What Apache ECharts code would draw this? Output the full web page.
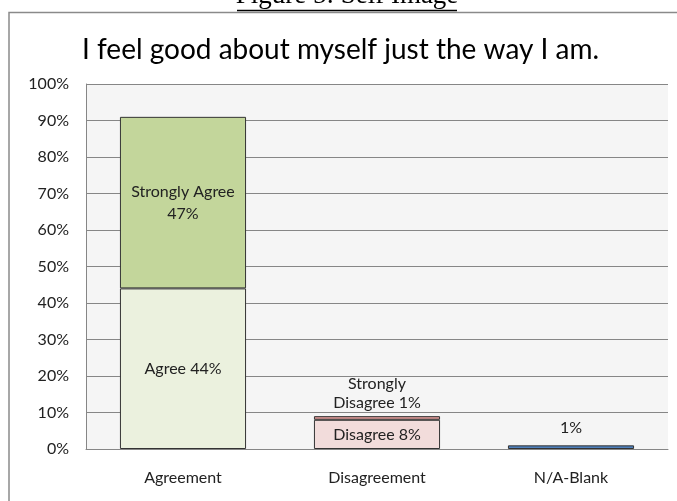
<!DOCTYPE html>
<html>
<head>
<meta charset="utf-8">
<script src="https://cdn.jsdelivr.net/npm/echarts@6/dist/echarts.min.js"></script>
<style>
html,body{margin:0;padding:0;background:#fff;}
#chart{width:677px;height:501px;}
</style>
</head>
<body>
<div id="chart"></div>
<script>
const categories = ['Agreement', 'Disagreement', 'N/A-Blank'];
const agree = [44, '-', '-'];
const stronglyAgree = [47, '-', '-'];
const disagree = ['-', 8, '-'];
const stronglyDisagree = ['-', 1, '-'];
const naBlank = ['-', '-', 1];
const yTicks = [0, 10, 20, 30, 40, 50, 60, 70, 80, 90, 100];

const FONT = 'Lato';
const chart = echarts.init(document.getElementById('chart'), null, {renderer: 'canvas'});

function seg(name, data, color, labelText, pos, dist, lh) {
  return {
    name: name, type: 'bar', stack: 'total', data: data,
    barWidth: '65%',
    itemStyle: {color: color, borderColor: '#333333', borderWidth: 1},
    label: {
      show: true, position: pos, distance: dist || 5,
      formatter: function (p) { return labelText.replace('{v}', p.value + '%'); },
      fontFamily: FONT, fontSize: 16, color: '#222', lineHeight: lh || 19
    },
    emphasis: {disabled: true}
  };
}

chart.setOption({
  animation: false,
  backgroundColor: '#fff',
  title: {
    text: 'I feel good about myself just the way I am.',
    left: 77, top: 31,
    textStyle: {fontFamily: FONT, fontSize: 28, fontWeight: 'normal', color: '#000'}
  },
  graphic: [
    {type: 'rect', shape: {x: 9, y: 12.5, width: 720, height: 520}, style: {fill: 'none', stroke: '#8a8a8a', lineWidth: 1.5}, silent: true, z: -1},
    {type: 'text', x: 347, y: 9, style: {text: 'Figure 5: Self Image', font: '27px "Liberation Serif"', fill: '#000', textAlign: 'center', textVerticalAlign: 'bottom'}},
    {type: 'line', shape: {x1: 237, y1: 10.5, x2: 457, y2: 10.5}, style: {stroke: '#000', lineWidth: 1.5}}
  ],
  grid: {left: 86, right: 9, top: 84, bottom: 52, show: true, backgroundColor: '#f5f5f5', borderWidth: 0},
  xAxis: {
    type: 'category', data: categories,
    axisLine: {lineStyle: {color: '#868686'}},
    axisTick: {show: false},
    axisLabel: {fontFamily: FONT, fontSize: 16, color: '#222', margin: 21}
  },
  yAxis: {
    type: 'value', min: 0, max: 100, interval: 10,
    axisLine: {show: true, lineStyle: {color: '#868686'}},
    axisTick: {show: false},
    splitLine: {lineStyle: {color: '#868686'}},
    axisLabel: {fontFamily: FONT, fontSize: 16, color: '#222', margin: 17,
      formatter: function (v) { return yTicks.indexOf(v) >= 0 ? v + '%' : ''; }}
  },
  series: [
    seg('Agree', agree, '#ebf1de', 'Agree {v}', 'inside'),
    seg('Strongly Agree', stronglyAgree, '#c3d69b', 'Strongly Agree\n{v}', 'inside', 5, 22),
    seg('Disagree', disagree, '#f2dcdb', 'Disagree {v}', 'inside'),
    seg('Strongly Disagree', stronglyDisagree, '#d99694', 'Strongly\nDisagree {v}', 'top', 4, 19),
    seg('N/A-Blank', naBlank, '#4f81bd', '{v}', 'top', 8)
  ]
});
</script>
</body>
</html>
